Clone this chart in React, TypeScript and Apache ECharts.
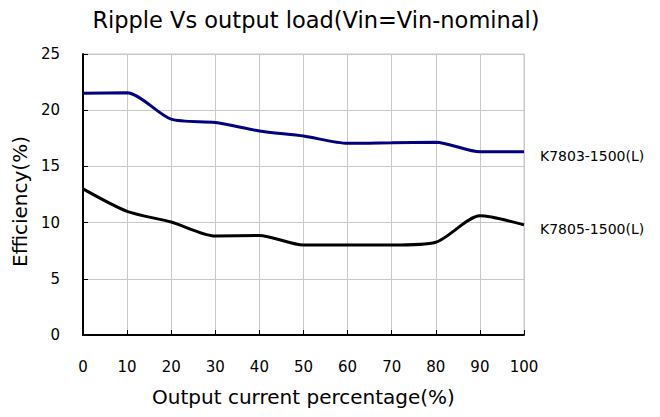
import React, { useEffect, useRef } from "react";
import * as echarts from "echarts";

const xValues = [0, 10, 20, 30, 40, 50, 60, 70, 80, 90, 100];
const k7803 = [21.5, 21.55, 19.2, 18.9, 18.15, 17.7, 17.05, 17.1, 17.15, 16.3, 16.3];
const k7805 = [13.0, 11.0, 10.05, 8.8, 8.85, 8.0, 8.0, 8.0, 8.25, 10.6, 9.8];
const seriesNames = ["K7803-1500(L)", "K7805-1500(L)"];
const FONT = "DejaVu Sans";

export default function App() {
  const ref = useRef<HTMLDivElement>(null);
  useEffect(() => {
    const chart = echarts.init(ref.current!, null, { renderer: "svg" });
    const mk = (vals: number[]) => xValues.map((x, i) => [x, vals[i]]);
    const endLabel = {
      show: true,
      formatter: "{a}",
      distance: 16,
      offset: [0, 4],
      fontFamily: FONT,
      fontSize: 14,
      color: "#000",
    };
    chart.setOption({
      animation: false,
      backgroundColor: "#fff",
      textStyle: { fontFamily: FONT },
      title: {
        text: "Ripple Vs output load(Vin=Vin-nominal)",
        left: 311,
        textAlign: "center",
        top: 3,
        textStyle: { fontFamily: FONT, fontSize: 22.5, fontWeight: "normal", color: "#000" },
      },
      grid: { left: 83, right: 136, top: 54, bottom: 82, show: true, borderColor: "#c8c8c8", borderWidth: 1 },
      xAxis: {
        type: "value",
        min: 0,
        max: 100,
        interval: 10,
        name: "Output current percentage(%)",
        nameLocation: "middle",
        nameGap: 52,
        nameTextStyle: { fontFamily: FONT, fontSize: 20, color: "#000" },
        axisLine: { show: true, lineStyle: { color: "#000", width: 2 } },
        axisTick: { show: true, inside: true, length: 5, lineStyle: { color: "#000" } },
        axisLabel: { margin: 24, fontFamily: FONT, fontSize: 15, color: "#000" },
        splitLine: { show: true, lineStyle: { color: "#c8c8c8", width: 1 } },
      },
      yAxis: {
        type: "value",
        min: 0,
        max: 25,
        interval: 5,
        name: "Efficiency(%)",
        nameLocation: "middle",
        nameGap: 45,
        nameTextStyle: { fontFamily: FONT, fontSize: 20, color: "#000", padding: [0, 14, 0, 0] },
        axisLine: { show: true, lineStyle: { color: "#000", width: 2 } },
        axisTick: { show: true, inside: true, length: 5, lineStyle: { color: "#000" } },
        axisLabel: { margin: 23, fontFamily: FONT, fontSize: 15, color: "#000" },
        splitLine: { show: true, lineStyle: { color: "#c8c8c8", width: 1 } },
      },
      series: [
        {
          name: seriesNames[0],
          type: "line",
          data: mk(k7803),
          smooth: 0.25,
          smoothConstraint: false,
          symbol: "none",
          lineStyle: { color: "#000080", width: 3 },
          endLabel,
        },
        {
          name: seriesNames[1],
          type: "line",
          data: mk(k7805),
          smooth: 0.25,
          smoothConstraint: false,
          symbol: "none",
          lineStyle: { color: "#000", width: 3 },
          endLabel,
        },
      ],
    });
    return () => chart.dispose();
  }, []);
  return <div ref={ref} style={{ width: 660, height: 417, position: "absolute", left: 0, top: 0 }} />;
}
